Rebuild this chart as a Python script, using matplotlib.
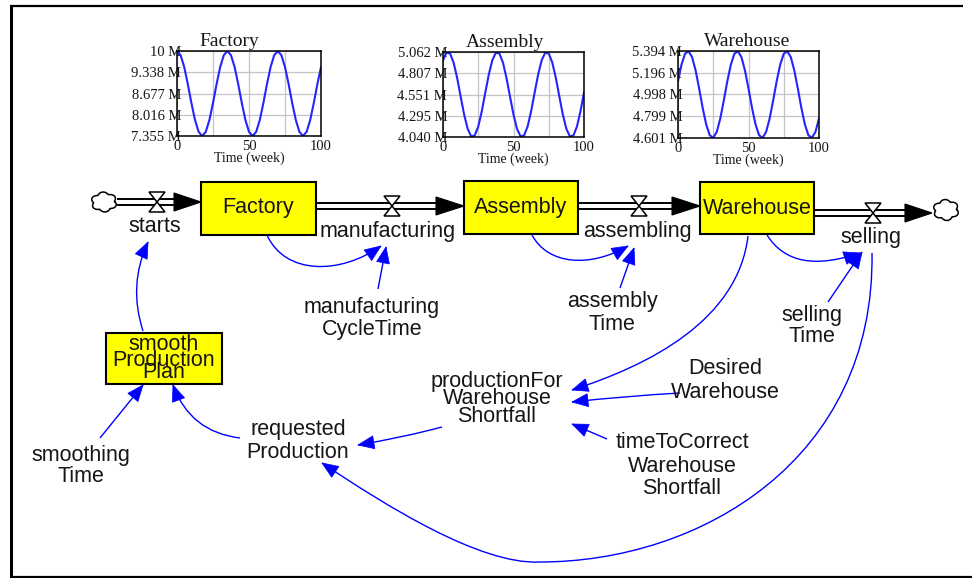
import numpy as np
import matplotlib.pyplot as plt
from matplotlib.path import Path
from matplotlib.patches import Rectangle, Polygon, PathPatch

W, H = 972, 578
SANS = "Liberation Sans"
SERIF = "Liberation Serif"
TXT = "#161616"
BLUE = "#0000ff"

# --- mini graphs: stock levels (millions) ---
weeks = np.arange(0, 100.1, 2.5)
factory_m = [10.000, 9.869, 9.502, 8.972, 8.383, 7.853, 7.486, 7.355, 7.486, 7.853, 8.383, 8.972, 9.502, 9.869,
             10.000, 9.869, 9.502, 8.972, 8.383, 7.853, 7.486, 7.355, 7.486, 7.853, 8.383, 8.972, 9.502, 9.869,
             10.000, 9.869, 9.502, 8.972, 8.383, 7.853, 7.486, 7.355, 7.486, 7.853, 8.383, 8.972, 9.502]
assembly_m = [4.964, 5.054, 5.044, 4.936, 4.752, 4.528, 4.309, 4.138, 4.048, 4.058, 4.166, 4.350, 4.574, 4.793,
              4.964, 5.054, 5.044, 4.936, 4.752, 4.528, 4.309, 4.138, 4.048, 4.058, 4.166, 4.350, 4.574, 4.793,
              4.964, 5.054, 5.044, 4.936, 4.752, 4.528, 4.309, 4.138, 4.048, 4.058, 4.166, 4.350, 4.574]
warehouse_m = [5.120, 5.271, 5.369, 5.392, 5.338, 5.216, 5.051, 4.875, 4.724, 4.626, 4.603, 4.657, 4.779, 4.944,
               5.120, 5.271, 5.369, 5.392, 5.338, 5.216, 5.051, 4.875, 4.724, 4.626, 4.603, 4.657, 4.779, 4.944,
               5.120, 5.271, 5.369, 5.392, 5.338, 5.216, 5.051, 4.875, 4.724, 4.626, 4.603, 4.657, 4.779]

factory_ticks = [7.355, 8.016, 8.677, 9.338, 10.0]
factory_labels = ["7.355 M", "8.016 M", "8.677 M", "9.338 M", "10 M"]
assembly_ticks = [4.040, 4.295, 4.551, 4.807, 5.062]
assembly_labels = ["4.040 M", "4.295 M", "4.551 M", "4.807 M", "5.062 M"]
warehouse_ticks = [4.601, 4.799, 4.998, 5.196, 5.394]
warehouse_labels = ["4.601 M", "4.799 M", "4.998 M", "5.196 M", "5.394 M"]
time_ticks = [0, 50, 100]
time_grid = [25, 75]
time_label = "Time (week)"
graph_titles = ["Factory", "Assembly", "Warehouse"]

# --- diagram variable names ---
stocks = ["Factory", "Assembly", "Warehouse"]
flows = ["starts", "manufacturing", "assembling", "selling"]
aux = {
    "mct": ["manufacturing", "CycleTime"],
    "at": ["assembly", "Time"],
    "st": ["selling", "Time"],
    "pfws": ["productionFor", "Warehouse", "Shortfall"],
    "dw": ["Desired", "Warehouse"],
    "ttc": ["timeToCorrect", "Warehouse", "Shortfall"],
    "rp": ["requested", "Production"],
    "smt": ["smoothing", "Time"],
    "spp": ["smooth", "Production", "Plan"],
}

fig = plt.figure(figsize=(W / 100, H / 100), dpi=100)
ax = fig.add_axes([0, 0, 1, 1])
ax.set_xlim(0, W)
ax.set_ylim(H, 0)
ax.axis("off")

# outer frame
ax.plot([10.5, 10.5], [5, H], color="black", lw=2.2, solid_capstyle="butt")
ax.plot([10, 963], [6, 6], color="black", lw=1.6, solid_capstyle="butt")
ax.plot([10, W], [577, 577], color="black", lw=1.6, solid_capstyle="butt")


def label(x, ys, lines, size=15.5):
    for y, s in zip(ys, lines):
        ax.text(x, y, s, ha="center", va="center", fontsize=size, color=TXT,
                family=SANS, zorder=6)


def stock(x0, y0, x1, y1):
    ax.add_patch(Rectangle((x0, y0), x1 - x0, y1 - y0, fc="#ffff00", ec="black",
                           lw=1.5, zorder=3))


def valve(x, y):
    for s in (-1, 1):
        ax.add_patch(Polygon([(x - 8, y + s * 10), (x + 8, y + s * 10), (x, y)],
                             closed=True, fc="white", ec="black", lw=1.1, zorder=4))


def pipe(x0, x1, tip, y):
    for dy in (-3, 3):
        ax.plot([x0, x1 + 2], [y + dy, y + dy], color="black", lw=1.4, zorder=2)
    ax.add_patch(Polygon([(x1, y - 9), (x1, y + 9), (tip, y)], closed=True,
                         fc="black", ec="black", lw=0.8, zorder=3))


def cloud(cx, cy, rx, ry):
    t = np.linspace(0, 2 * np.pi, 300)
    r = 0.8 + 0.2 * np.abs(np.sin(3 * t + 0.3))
    ax.plot(cx + rx * r * np.cos(t), cy + ry * r * np.sin(t), color="black",
            lw=1.1, zorder=3)


def link(pts, hl=16, hw=6.5):
    pts = [tuple(map(float, p)) for p in pts]
    n = len(pts)
    if n == 2:
        codes = [Path.MOVETO, Path.LINETO]
    elif n == 3:
        codes = [Path.MOVETO, Path.CURVE3, Path.CURVE3]
    else:
        codes = [Path.MOVETO] + [Path.CURVE4] * (n - 1)
    ax.add_patch(PathPatch(Path(pts, codes), fc="none", ec=BLUE, lw=1.0, zorder=5))
    tip = np.array(pts[-1])
    d = tip - np.array(pts[-2])
    d /= np.hypot(*d)
    nrm = np.array([-d[1], d[0]])
    base = tip - d * hl
    ax.add_patch(Polygon([tip, base + nrm * hw, base - nrm * hw], closed=True,
                         fc=BLUE, ec=BLUE, lw=0.5, zorder=5))


# stocks
stock(201, 182, 316, 235)
stock(464, 181, 578, 234)
stock(700, 182, 814, 234)
stock(106, 333, 222, 384)
ax.text(258, 208, stocks[0], ha="center", va="center", fontsize=15.5, color=TXT, family=SANS, zorder=6)
ax.text(521, 208, stocks[1], ha="center", va="center", fontsize=15.5, color=TXT, family=SANS, zorder=6)
ax.text(757, 208, stocks[2], ha="center", va="center", fontsize=15.5, color=TXT, family=SANS, zorder=6)
label(164, [345, 360, 373], aux["spp"])

# flows
cloud(104, 202, 13, 10)
cloud(946, 210, 13, 10.5)
pipe(118, 174, 201, 202)
pipe(316, 436, 464, 206)
pipe(578, 672, 700, 206)
pipe(814, 905, 932, 213)
valve(157, 202)
valve(392, 206)
valve(639, 206)
valve(873, 213)
label(155, [227], [flows[0]])
label(388, [232], [flows[1]])
label(637, [232], [flows[2]])
label(871, [238], [flows[3]])

# auxiliaries
label(372, [307, 330], aux["mct"])
label(612, [302, 324], aux["at"])
label(812, [315, 336], aux["st"])
label(497, [381, 399, 417], aux["pfws"])
label(725, [369, 393], aux["dw"])
label(682, [443, 466, 489], aux["ttc"])
label(298, [430, 452], aux["rp"])
label(81, [455, 477], aux["smt"])

# information links
link([(143, 331), (128, 285), (148, 242)])
link([(267, 235), (285, 275), (340, 275), (381, 246)])
link([(378, 289), (386, 247)])
link([(532, 235), (548, 265), (590, 268), (628, 246)])
link([(620, 288), (634, 248)])
link([(767, 235), (785, 263), (815, 268), (860, 253)])
link([(828, 302), (862, 252)])
link([(872, 253), (875, 460), (700, 562), (540, 562),
      (480, 565), (385, 505), (322, 463)])
link([(748, 236), (738, 320), (650, 365), (572, 390)])
link([(680, 393), (625, 396), (572, 402)])
link([(607, 439), (572, 424)])
link([(442, 427), (405, 437), (358, 445)])
link([(240, 438), (190, 432), (173, 385)])
link([(100, 438), (143, 385)])


# mini graphs
def px_axes(x0, y0, x1, y1):
    return fig.add_axes([x0 / W, 1 - y1 / H, (x1 - x0) / W, (y1 - y0) / H])


graphs = [
    ((177, 51, 321, 136), factory_m, factory_ticks, factory_labels, 0.36),
    ((443, 52, 584, 137), assembly_m, assembly_ticks, assembly_labels, 0.44),
    ((678, 51, 819, 138), warehouse_m, warehouse_ticks, warehouse_labels, 0.49),
]
for (rect, vals, yt, yl, tx), title in zip(graphs, graph_titles):
    g = px_axes(*rect)
    g.plot(weeks, vals, color="#2424ff", lw=1.5, zorder=3)
    g.set_xlim(0, 100)
    g.set_ylim(yt[0], yt[-1])
    g.set_yticks(yt, yl)
    g.set_xticks(time_ticks)
    g.set_xticks(time_grid, minor=True)
    g.grid(True, which="both", color="#c4c4c4", lw=0.9)
    g.tick_params(which="both", length=0)
    g.tick_params(axis="y", pad=-3, labelsize=10.5, labelcolor=TXT)
    g.tick_params(axis="x", pad=3, labelsize=10.5, labelcolor=TXT)
    for lab in g.get_xticklabels() + g.get_yticklabels():
        lab.set_family(SERIF)
    g.set_xlabel(time_label, family=SERIF, fontsize=10, color=TXT, labelpad=-1.5)
    for sp in g.spines.values():
        sp.set_linewidth(1.1)
        sp.set_zorder(4)
    g.annotate(title, xy=(tx, 1), xycoords="axes fraction", xytext=(0, 1),
               textcoords="offset points", ha="center", va="bottom",
               family=SERIF, fontsize=14, color=TXT)

fig.savefig("out.png", dpi=100)
